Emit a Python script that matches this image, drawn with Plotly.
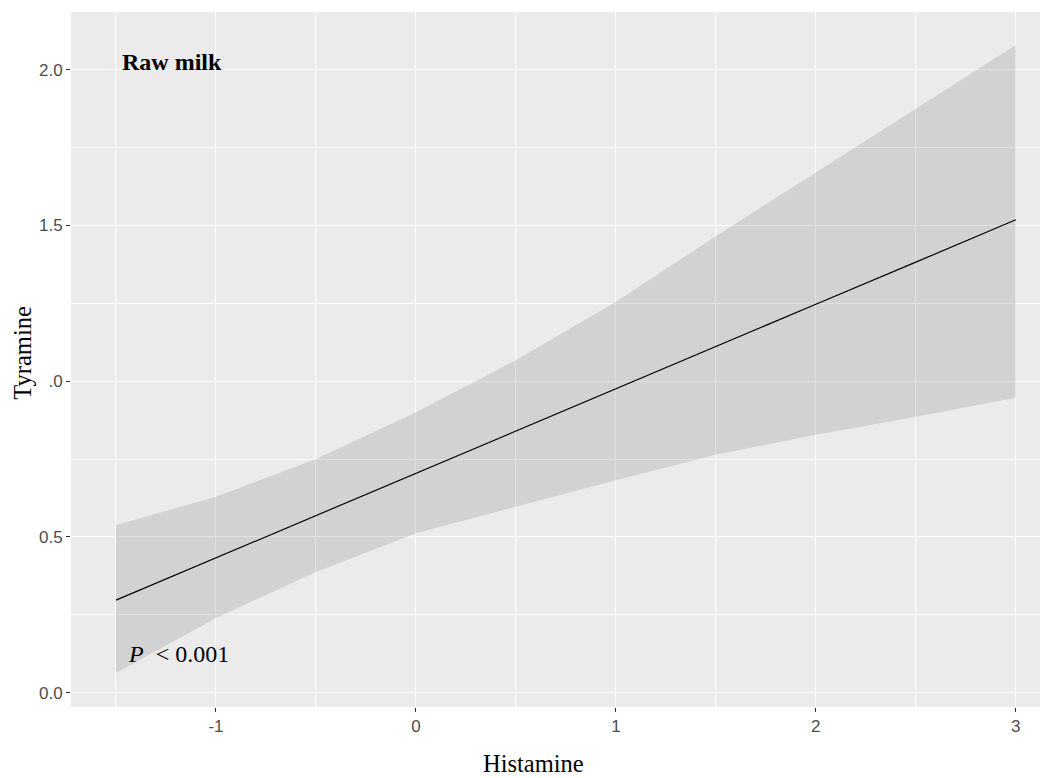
import plotly.graph_objects as go

# Data
histamine = [-1.5, -1.0, -0.5, 0.0, 0.5, 1.0, 1.5, 2.0, 2.5, 3.0]
tyramine_fit = [0.297, 0.433, 0.568, 0.704, 0.840, 0.975, 1.111, 1.247, 1.382, 1.518]
ci_upper = [0.538, 0.629, 0.750, 0.900, 1.067, 1.255, 1.465, 1.669, 1.874, 2.079]
ci_lower = [0.063, 0.240, 0.387, 0.512, 0.596, 0.682, 0.764, 0.828, 0.886, 0.947]

x_ticks = [-1, 0, 1, 2, 3]
x_ticktext = ["-1", "0", "1", "2", "3"]
y_ticks = [0.0, 0.5, 1.0, 1.5, 2.0]
y_ticktext = ["0.0", "0.5", ".0", "1.5", "2.0"]

fig = go.Figure()

# ribbon
fig.add_trace(go.Scatter(
    x=histamine + histamine[::-1],
    y=ci_upper + ci_lower[::-1],
    fill="toself",
    fillcolor="rgba(153,153,153,0.3)",
    line=dict(width=0),
    mode="lines",
    hoverinfo="skip",
    showlegend=False,
))
# fitted line
fig.add_trace(go.Scatter(
    x=histamine, y=tyramine_fit, mode="lines",
    line=dict(color="black", width=1.2),
    showlegend=False,
))

tickfont = dict(family="Liberation Sans, Arial, sans-serif", size=17, color="#4D4D4D")
serif = "Liberation Serif, Times New Roman, serif"

fig.update_layout(
    width=1040, height=770,
    margin=dict(l=63, r=0, t=4, b=71),
    paper_bgcolor="white",
    plot_bgcolor="#EBEBEB",
    xaxis=dict(
        range=[-1.725, 3.161],
        tickmode="array", tickvals=x_ticks, ticktext=x_ticktext,
        ticks="outside", ticklen=4, tickwidth=1.1, tickcolor="#333333",
        tickfont=tickfont,
        showgrid=True, gridcolor="white", gridwidth=1.3,
        minor=dict(dtick=0.5, tick0=-1.5, showgrid=True, gridcolor="white", gridwidth=0.6),
        zeroline=False, showline=False,
    ),
    yaxis=dict(
        range=[-0.046, 2.185],
        tickmode="array", tickvals=y_ticks, ticktext=y_ticktext,
        ticks="outside", ticklen=4, tickwidth=1.1, tickcolor="#333333",
        tickfont=tickfont,
        showgrid=True, gridcolor="white", gridwidth=1.3,
        minor=dict(dtick=0.25, tick0=0, showgrid=True, gridcolor="white", gridwidth=0.6),
        zeroline=False, showline=False,
    ),
    annotations=[
        dict(text="<b>Raw milk</b>", x=-1.482, y=2.024, xref="x", yref="y",
             xanchor="left", yanchor="middle", showarrow=False,
             font=dict(family=serif, size=24, color="black")),
        dict(text="<i>P</i>  &lt; 0.001", x=-1.45, y=0.124, xref="x", yref="y",
             xanchor="left", yanchor="middle", showarrow=False,
             font=dict(family=serif, size=24, color="black")),
        dict(text="Histamine", x=0.473, y=-0.081, xref="paper", yref="paper",
             xanchor="center", yanchor="middle", showarrow=False,
             font=dict(family=serif, size=24.5, color="black")),
        dict(text="Tyramine", x=-0.050, y=0.51, xref="paper", yref="paper",
             xanchor="center", yanchor="middle", showarrow=False, textangle=-90,
             font=dict(family=serif, size=24.5, color="black")),
    ],
)

fig.write_html("out.html")
